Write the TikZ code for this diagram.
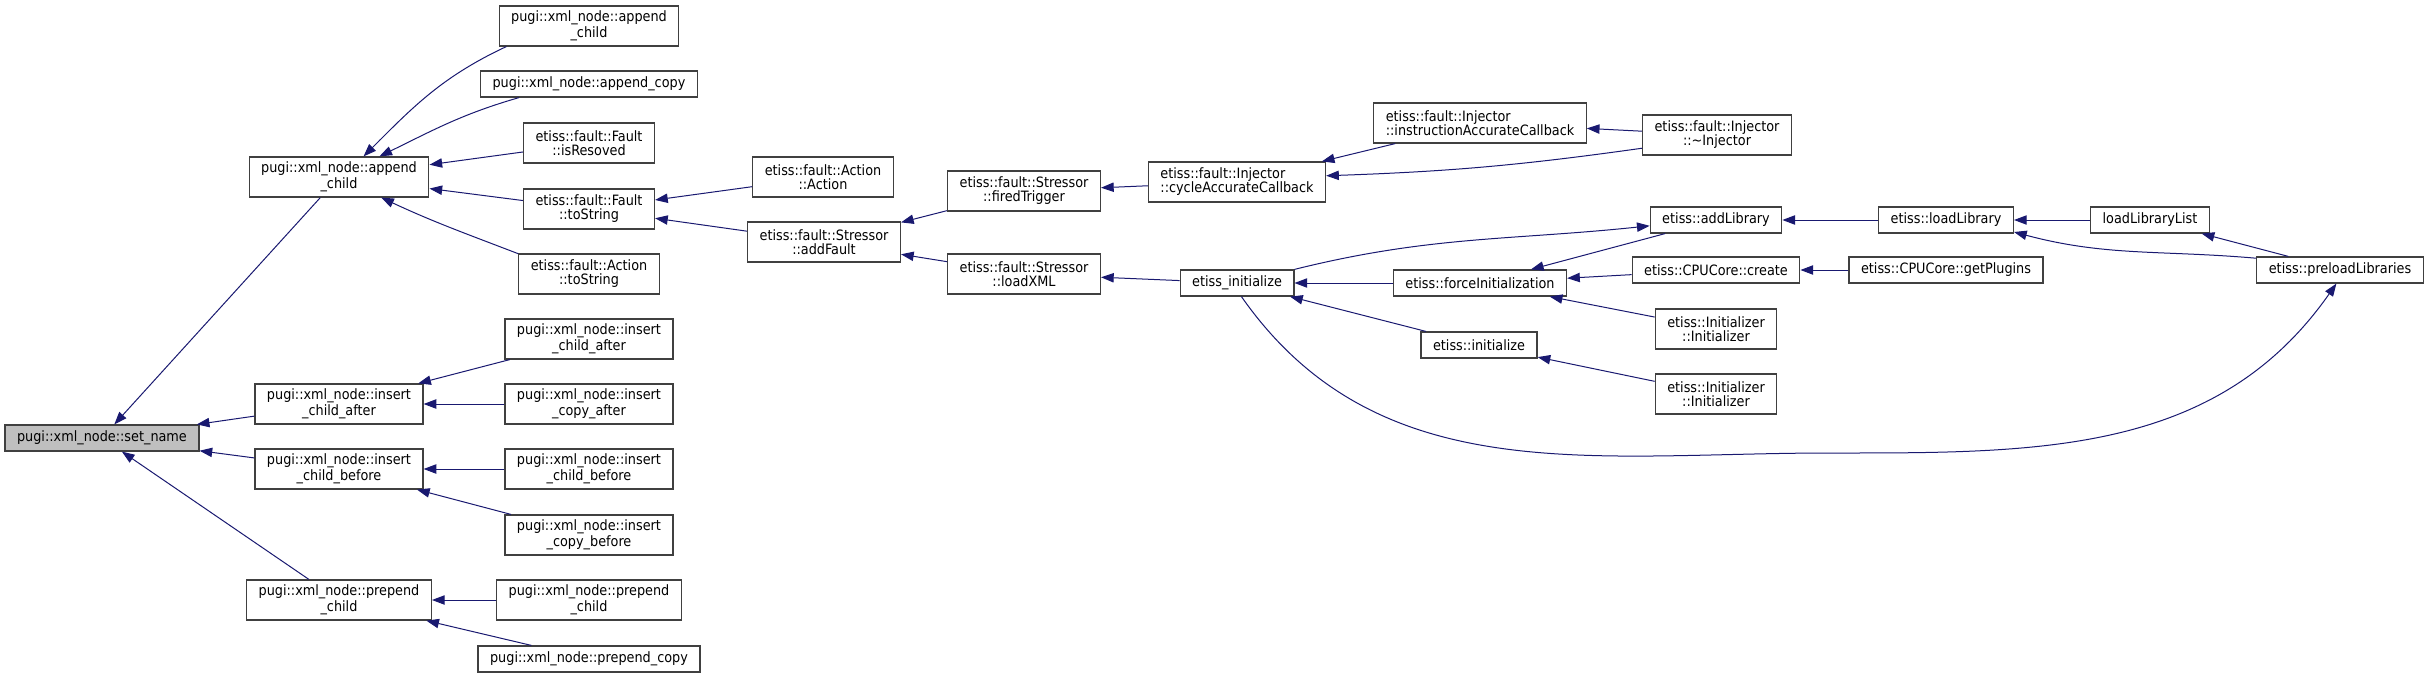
\documentclass[tikz,border=0pt]{standalone}
\usepackage{fontspec}
\setmainfont{DejaVu Sans Condensed}
\usetikzlibrary{arrows.meta}
\definecolor{edgeblue}{HTML}{191970}
\definecolor{callergray}{HTML}{BFBFBF}
\definecolor{boxline}{HTML}{404040}

\begin{document}
\begin{tikzpicture}[
  x=0.75pt, y=0.75pt,
  fn/.style={draw=boxline, line width=0.9pt, fill=white, font=\fontsize{10.7}{10.5}\selectfont, align=center, inner xsep=9pt, inner ysep=0pt, minimum height=19.5pt},
  fntwo/.style={fn, minimum height=30pt},
  fnleft/.style={fntwo, align=left},
  arr/.style={-{Triangle[length=9.5pt,width=7pt]}, color=edgeblue, line width=0.75pt},
]
  \useasboundingbox (0,0) rectangle (2429,-678);

  \node[fn, fill=callergray] (setname) at (102,-438) {pugi::xml\_node::set\_name};

  \node[fntwo] (append) at (339,-177) {pugi::xml\_node::append\\\_child};
  \node[fntwo] (insafter) at (339,-404) {pugi::xml\_node::insert\\\_child\_after};
  \node[fntwo] (insbefore) at (339,-469) {pugi::xml\_node::insert\\\_child\_before};
  \node[fntwo] (prepend) at (339,-600) {pugi::xml\_node::prepend\\\_child};

  \node[fntwo] (appendchild) at (589,-26) {pugi::xml\_node::append\\\_child};
  \node[fn] (appendcopy) at (589,-84) {pugi::xml\_node::append\_copy};
  \node[fntwo] (isresoved) at (589,-143) {etiss::fault::Fault\\::isResoved};
  \node[fntwo] (tostring) at (589,-209) {etiss::fault::Fault\\::toString};
  \node[fntwo] (actstring) at (589,-274) {etiss::fault::Action\\::toString};
  \node[fntwo] (inschildafter) at (589,-339) {pugi::xml\_node::insert\\\_child\_after};
  \node[fntwo] (inscopyafter) at (589,-404) {pugi::xml\_node::insert\\\_copy\_after};
  \node[fntwo] (inschildbefore) at (589,-469) {pugi::xml\_node::insert\\\_child\_before};
  \node[fntwo] (inscopybefore) at (589,-535) {pugi::xml\_node::insert\\\_copy\_before};
  \node[fntwo] (prependchild) at (589,-600) {pugi::xml\_node::prepend\\\_child};
  \node[fn] (prependcopy) at (589,-659) {pugi::xml\_node::prepend\_copy};

  \node[fntwo] (action) at (823,-177) {etiss::fault::Action\\::Action};
  \node[fntwo] (addfault) at (824,-242) {etiss::fault::Stressor\\::addFault};
  \node[fntwo] (fired) at (1024,-191) {etiss::fault::Stressor\\::firedTrigger};
  \node[fntwo] (loadxml) at (1024,-274) {etiss::fault::Stressor\\::loadXML};

  \node[fnleft] (cycle) at (1237,-182) {etiss::fault::Injector\\::cycleAccurateCallback};
  \node[fn] (initialize) at (1237,-283) {etiss\_initialize};
  \node[fnleft] (instr) at (1480,-123) {etiss::fault::Injector\\::instructionAccurateCallback};
  \node[fn] (force) at (1480,-283) {etiss::forceInitialization};
  \node[fn] (init) at (1479,-345) {etiss::initialize};

  \node[fntwo] (dtor) at (1717,-135) {etiss::fault::Injector\\::\textasciitilde Injector};
  \node[fn] (addlib) at (1716,-220) {etiss::addLibrary};
  \node[fn] (create) at (1716,-270) {etiss::CPUCore::create};
  \node[fntwo] (initone) at (1716,-329) {etiss::Initializer\\::Initializer};
  \node[fntwo] (inittwo) at (1716,-394) {etiss::Initializer\\::Initializer};

  \node[fn] (loadlib) at (1946,-220) {etiss::loadLibrary};
  \node[fn] (plugins) at (1946,-270) {etiss::CPUCore::getPlugins};
  \node[fn] (liblist) at (2150,-220) {loadLibraryList};
  \node[fn] (preload) at (2340,-270) {etiss::preloadLibraries};
  \coordinate (lowpass) at (1830,-453);

  \draw[arr] (append) -- (setname);
  \draw[arr] (insafter) -- (setname);
  \draw[arr] (insbefore) -- (setname);
  \draw[arr] (prepend) -- (setname);

  \draw[arr] (appendchild.194) to[out=205,in=45] (append.40);
  \draw[arr] (appendcopy.191) to[out=196,in=26] (append.27);
  \draw[arr] (isresoved) -- (append);
  \draw[arr] (tostring) -- (append);
  \draw[arr] (actstring.164) to[out=159,in=-25] (append.-26);
  \draw[arr] (inschildafter) -- (insafter);
  \draw[arr] (inscopyafter) -- (insafter);
  \draw[arr] (inschildbefore) -- (insbefore);
  \draw[arr] (inscopybefore) -- (insbefore);
  \draw[arr] (prependchild) -- (prepend);
  \draw[arr] (prependcopy) -- (prepend);

  \draw[arr] (action) -- (tostring);
  \draw[arr] (addfault) -- (tostring);
  \draw[arr] (fired) -- (addfault);
  \draw[arr] (loadxml) -- (addfault);
  \draw[arr] (cycle) -- (fired);
  \draw[arr] (instr) -- (cycle);
  \draw[arr] (dtor) -- (instr);
  \draw[arr] (dtor.190) to[out=188,in=2] (cycle.4);
  \draw[arr] (initialize) -- (loadxml);
  \draw[arr] (force) -- (initialize);
  \draw[arr] (init) -- (initialize);
  \draw[arr] (initialize.north east) to[out=14,in=186] (addlib.185);
  \draw[arr] (initialize.-72) to[out=-55,in=180] (lowpass) to[out=0,in=-125] (preload.-105);

  \draw[arr] (addlib) -- (force);
  \draw[arr] (create) -- (force);
  \draw[arr] (initone) -- (force);
  \draw[arr] (inittwo) -- (init);
  \draw[arr] (plugins) -- (create);
  \draw[arr] (loadlib) -- (addlib);
  \draw[arr] (liblist) -- (loadlib);
  \draw[arr] (preload.172) to[out=175,in=-15] (loadlib.-10);
  \draw[arr] (preload) -- (liblist);
\end{tikzpicture}
\end{document}
